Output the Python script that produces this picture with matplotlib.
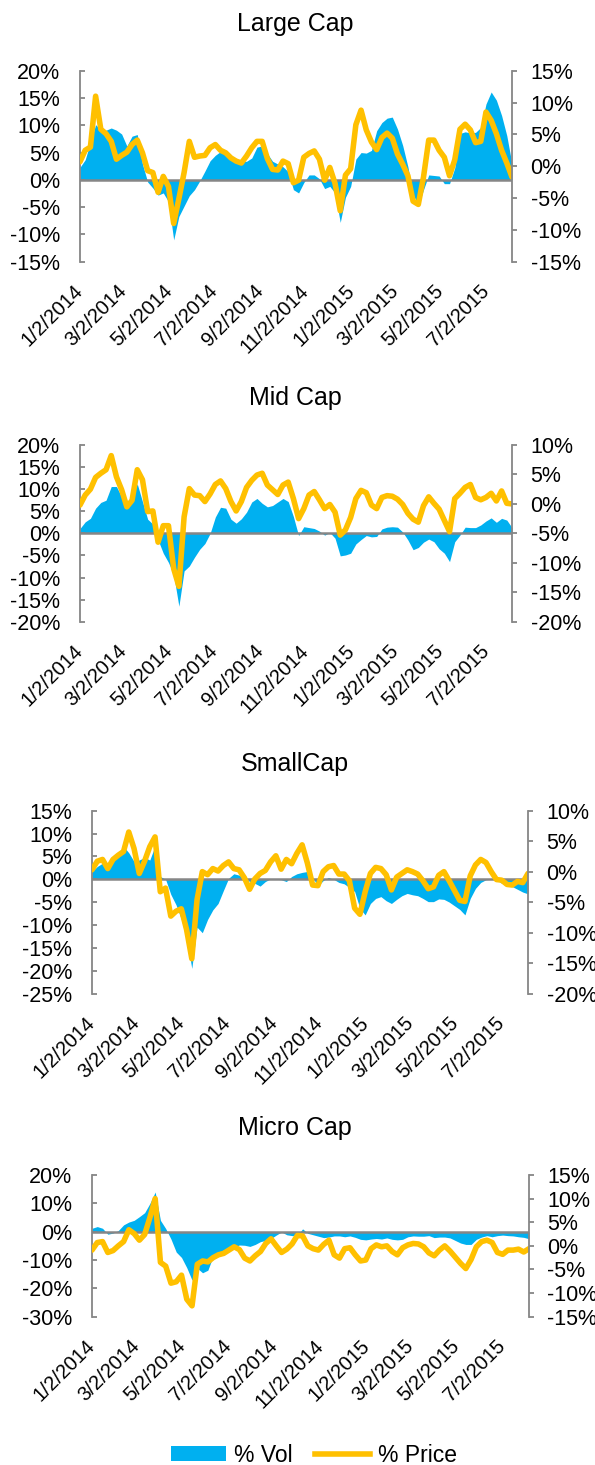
import pandas as pd
import matplotlib
matplotlib.use("Agg")
import matplotlib.pyplot as plt
from matplotlib.patches import Patch
from matplotlib.lines import Line2D

plt.rcParams["font.family"] = ["Liberation Sans", "DejaVu Sans"]

# ── Data (weekly readings, % change) ─────────────────────────────────────────
DATES = pd.date_range("2014-01-02", "2015-08-06", freq="W-THU")

TICK_DATES = pd.to_datetime([
    "2014-01-02", "2014-03-02", "2014-05-02", "2014-07-02", "2014-09-02",
    "2014-11-02", "2015-01-02", "2015-03-02", "2015-05-02", "2015-07-02",
])
TICK_LABELS = ["1/2/2014", "3/2/2014", "5/2/2014", "7/2/2014", "9/2/2014",
               "11/2/2014", "1/2/2015", "3/2/2015", "5/2/2015", "7/2/2015"]

LARGE_VOL = [
    2.3, 3.7, 6.9, 10.1, 9.2, 9.1, 9.5, 9.1, 8.4, 6.2,
    8.0, 8.3, 2.9, -0.4, -1.5, -2.8, -2.4, -4.0, -11.0, -6.7,
    -4.8, -2.9, -1.8, -0.2, 1.6, 3.5, 4.5, 5.2, 5.2, 4.1,
    3.6, 3.4, 3.4, 4.0, 6.0, 6.2, 4.8, 3.4, 2.9, 2.4,
    1.5, -1.8, -2.4, -0.5, 0.9, 0.9, 0.2, -1.6, -1.2, -2.4,
    -7.8, -3.2, -1.2, 3.8, 5.0, 4.9, 5.4, 9.0, 10.5, 11.3,
    11.5, 9.3, 6.3, 2.4, -2.7, -4.7, -1.8, 0.9, 0.8, 0.7,
    -0.7, -0.7, 2.2, 8.5, 8.8, 8.6, 8.7, 9.6, 13.9, 16.1,
    14.6, 11.8, 8.1, 2.9,
]
LARGE_PRICE = [
    0.7, 2.5, 3.0, 11.0, 5.8, 5.1, 3.9, 1.1, 1.7, 2.2,
    3.4, 4.1, 2.1, -0.7, -1.0, -4.1, -1.6, -3.2, -9.0, -5.1,
    -1.0, 3.9, 1.4, 1.6, 1.7, 2.9, 3.4, 2.5, 2.1, 1.3,
    0.8, 0.5, 1.6, 2.9, 3.9, 3.9, 1.2, -0.5, -0.6, 0.8,
    0.4, -2.6, -2.2, 1.4, 2.0, 2.4, 1.1, -2.2, -0.2, -2.7,
    -7.0, -1.4, -0.4, 6.5, 8.8, 5.7, 3.8, 2.6, 4.5, 5.2,
    4.4, 1.9, 0.3, -1.5, -5.5, -6.0, -1.7, 4.1, 4.1, 2.5,
    1.4, -1.5, 1.0, 5.8, 6.6, 5.7, 3.7, 3.9, 8.5, 7.2,
    5.1, 2.5, 0.5, -1.7,
]

MID_VOL = [
    1.1, 2.6, 3.4, 5.7, 7.0, 7.5, 10.6, 10.6, 8.3, 5.7,
    8.5, 11.2, 7.2, 3.2, 2.1, -1.5, -4.5, -6.6, -9.4, -16.5,
    -8.5, -7.4, -5.4, -3.6, -2.3, 0.0, 3.7, 5.9, 5.7, 3.2,
    2.3, 3.3, 4.8, 7.1, 7.9, 6.8, 6.0, 6.3, 7.1, 7.9,
    7.2, 3.8, -0.5, 1.5, 1.3, 1.1, 0.5, -0.4, 0.2, -1.1,
    -5.1, -4.9, -4.5, -2.4, -1.4, -0.5, -0.8, -0.7, 1.0, 1.4,
    1.5, 1.4, 0.3, -1.5, -3.7, -3.2, -2.0, -1.3, -1.9, -3.5,
    -4.5, -6.4, -1.9, -0.4, 1.4, 1.3, 1.3, 1.9, 2.8, 3.5,
    2.5, 3.4, 3.0, 1.3,
]
MID_PRICE = [
    -0.2, 1.5, 2.5, 4.5, 5.2, 5.8, 8.2, 4.6, 2.4, -0.5,
    0.6, 5.8, 4.1, -1.3, -1.2, -6.5, -3.7, -3.7, -11.0, -14.0,
    -2.2, 2.6, 1.5, 1.4, 0.4, 1.7, 3.3, 3.9, 2.6, 0.4,
    -1.2, 0.4, 2.8, 4.0, 4.9, 5.2, 3.2, 2.4, 1.6, 3.2,
    3.7, 0.9, -2.5, -0.8, 1.5, 2.1, 0.7, -0.8, -0.1, -1.4,
    -5.3, -4.4, -2.3, 0.9, 2.3, 1.9, -0.2, -0.8, 1.1, 1.4,
    1.3, 0.8, -0.1, -1.6, -2.6, -3.1, -0.3, 1.2, 0.1, -0.9,
    -2.8, -4.7, 0.9, 1.8, 2.8, 3.3, 1.1, 0.7, 1.1, 1.8,
    0.5, 2.2, 0.1, 0.0,
]

SMALL_VOL = [
    1.7, 2.8, 3.5, 2.9, 4.2, 5.0, 7.2, 5.8, 3.9, 4.2,
    4.8, 4.2, 7.3, 0.6, 0.0, -3.3, -5.6, -8.7, -13.0, -19.5,
    -10.5, -11.7, -8.8, -6.7, -5.3, -2.5, 0.2, 1.2, 0.9, 0.4,
    -0.5, -0.9, -1.5, -0.5, 0.1, 0.0, -0.1, -0.5, 0.6, 1.2,
    1.5, 1.7, 0.4, -1.5, -0.3, 0.4, 0.0, -0.7, -1.0, -1.8,
    -2.7, -6.4, -7.8, -5.3, -4.2, -3.8, -4.7, -5.3, -4.4, -3.6,
    -3.1, -3.4, -3.6, -4.2, -4.9, -4.9, -4.3, -4.4, -5.0, -5.8,
    -6.6, -7.8, -4.2, -2.0, -0.7, -0.1, 0.0, -0.1, -0.9, -1.2,
    -1.6, -2.2, -2.8, -3.2,
]
SMALL_PRICE = [
    0.3, 1.7, 2.0, 0.5, 2.0, 2.7, 3.3, 6.5, 3.8, -0.3,
    1.7, 4.1, 5.7, -3.3, -2.7, -7.3, -6.5, -6.1, -9.5, -14.3,
    -4.6, 0.0, -0.5, 0.5, 0.1, 1.0, 1.6, 0.5, 0.3, -1.0,
    -2.9, -1.2, -0.3, 0.2, 1.6, 2.6, 0.4, 2.0, 1.3, 3.0,
    4.4, 1.4, -2.2, -2.3, 0.0, 0.8, 1.0, -0.4, -0.4, -1.5,
    -6.0, -7.0, -3.3, -0.3, 0.7, 0.5, -0.5, -3.0, -0.9, -0.3,
    0.3, 0.0, -0.4, -1.5, -2.8, -2.5, -0.6, 0.0, -1.5, -3.1,
    -4.7, -4.9, -0.7, 1.1, 2.0, 1.5, 0.0, -1.3, -1.4, -2.1,
    -2.2, -1.6, -1.8, -0.3,
]

MICRO_VOL = [
    1.2, 1.8, 1.2, -0.9, -0.5, 0.4, 2.4, 3.4, 4.0, 5.3,
    6.7, 10.0, 14.0, 4.0, 1.1, -2.6, -7.2, -9.1, -12.7, -17.1,
    -12.9, -14.5, -13.6, -8.7, -7.6, -6.5, -5.9, -5.3, -4.7, -4.8,
    -5.2, -4.5, -3.5, -3.1, -2.4, -1.2, -0.1, -1.1, -1.4, -1.3,
    1.0, -0.6, -1.1, -1.6, -2.1, -1.9, -1.5, -1.5, -1.8, -1.5,
    -2.0, -2.7, -2.9, -2.6, -2.4, -2.6, -2.2, -2.7, -2.9, -2.7,
    -1.8, -1.5, -1.6, -1.6, -1.4, -2.1, -1.9, -1.9, -2.2, -3.1,
    -4.0, -4.5, -4.5, -2.7, -1.9, -1.4, -1.8, -1.4, -1.2, -1.4,
    -1.5, -1.8, -2.0, -2.5,
]
MICRO_PRICE = [
    -0.9, 0.7, 0.9, -1.4, -1.0, 0.0, 0.9, 3.4, 2.6, 1.2,
    2.4, 6.0, 10.0, -3.5, -4.3, -7.9, -7.6, -6.2, -11.3, -12.7,
    -3.9, -3.2, -3.4, -2.5, -1.9, -1.6, -0.9, -0.2, -0.8, -2.6,
    -3.2, -2.1, -1.2, 0.5, 1.5, 0.0, -1.4, -0.7, 0.4, 2.2,
    2.1, 0.0, -0.6, -0.9, 0.3, 1.2, -1.9, -2.6, -0.6, -0.4,
    -1.9, -3.2, -3.0, -0.6, 0.2, -0.2, 0.0, -1.2, -1.9, -0.4,
    0.2, 0.5, 0.4, -0.2, -1.5, -2.1, -0.9, 0.0, -1.1, -2.4,
    -3.7, -4.8, -2.9, -0.2, 0.9, 1.2, 0.7, -1.4, -1.8, -0.9,
    -0.9, -0.7, -1.3, -0.6,
]

# ── Style ────────────────────────────────────────────────────────────────────
W, H, DPI = 595, 1465, 100
VOL_COLOR = "#00B0F0"
PRICE_COLOR = "#FFC000"
AXIS_GREY = "#868686"
PX = 72 / DPI  # points per pixel

# title, vol, price, left ticks, right ticks, plot box in pixels (x0, y0, x1, y1)
PANELS = [
    ("Large Cap", LARGE_VOL, LARGE_PRICE,
     list(range(-15, 21, 5)), list(range(-15, 16, 5)), (80, 70.7, 512, 261.7)),
    ("Mid Cap", MID_VOL, MID_PRICE,
     list(range(-20, 21, 5)), list(range(-20, 11, 5)), (80, 445, 512, 621.7)),
    ("SmallCap", SMALL_VOL, SMALL_PRICE,
     list(range(-25, 16, 5)), list(range(-20, 11, 5)), (92, 810.7, 528, 993.5)),
    ("Micro Cap", MICRO_VOL, MICRO_PRICE,
     list(range(-30, 21, 10)), list(range(-15, 16, 5)), (92, 1175, 529, 1316.7)),
]

fig = plt.figure(figsize=(W / DPI, H / DPI), dpi=DPI)

for title, vol, price, lticks, rticks, (x0, y0, x1, y1) in PANELS:
    ax = fig.add_axes([x0 / W, 1 - y1 / H, (x1 - x0) / W, (y1 - y0) / H])
    ax.patch.set_visible(False)
    ax.fill_between(DATES, 0, vol, color=VOL_COLOR, lw=0, zorder=1)
    ax.axhline(0, color=AXIS_GREY, lw=1.8, zorder=2)
    ax.set_ylim(lticks[0], lticks[-1])
    ax.set_yticks(lticks, [f"{v}%" for v in lticks])
    ax.set_xlim(DATES[0], DATES[-1])
    ax.set_xticks(TICK_DATES, TICK_LABELS, rotation=45, ha="right",
                  va="center", rotation_mode="anchor")
    ax.tick_params(axis="x", length=0, pad=26 * PX, labelsize=14.5)
    ax.tick_params(axis="y", direction="in", length=5 * PX, width=1.3,
                   color=AXIS_GREY, pad=20 * PX, labelsize=15.5)
    for s in ("top", "right", "bottom"):
        ax.spines[s].set_visible(False)
    ax.spines["left"].set_color(AXIS_GREY)
    ax.spines["left"].set_linewidth(1.3)

    ax2 = ax.twinx()
    ax2.plot(DATES, price, color=PRICE_COLOR, lw=4.0,
             solid_capstyle="round", solid_joinstyle="round")
    ax2.set_ylim(rticks[0], rticks[-1])
    ax2.set_yticks(rticks, [f"{v}%" for v in rticks])
    ax2.tick_params(axis="y", direction="out", length=5 * PX, width=1.3,
                    color=AXIS_GREY, pad=13.5 * PX, labelsize=15.5)
    for s in ("top", "left", "bottom"):
        ax2.spines[s].set_visible(False)
    ax2.spines["right"].set_color(AXIS_GREY)
    ax2.spines["right"].set_linewidth(1.3)

    fig.text(295 / W, 1 - (y0 - 40) / H, title, ha="center",
             va="baseline", fontsize=18)

handles = [Patch(facecolor=VOL_COLOR, edgecolor="none"),
           Line2D([], [], color=PRICE_COLOR, lw=4.0)]
fig.legend(handles, ["% Vol", "% Price"], loc="center",
           bbox_to_anchor=(314 / W, 1 - 1455 / H), ncol=2, frameon=False,
           fontsize=16.5, handlelength=2.4, handleheight=0.6,
           handletextpad=0.35, columnspacing=1.0, borderpad=0,
           borderaxespad=0)

fig.savefig("out.png", dpi=DPI)
